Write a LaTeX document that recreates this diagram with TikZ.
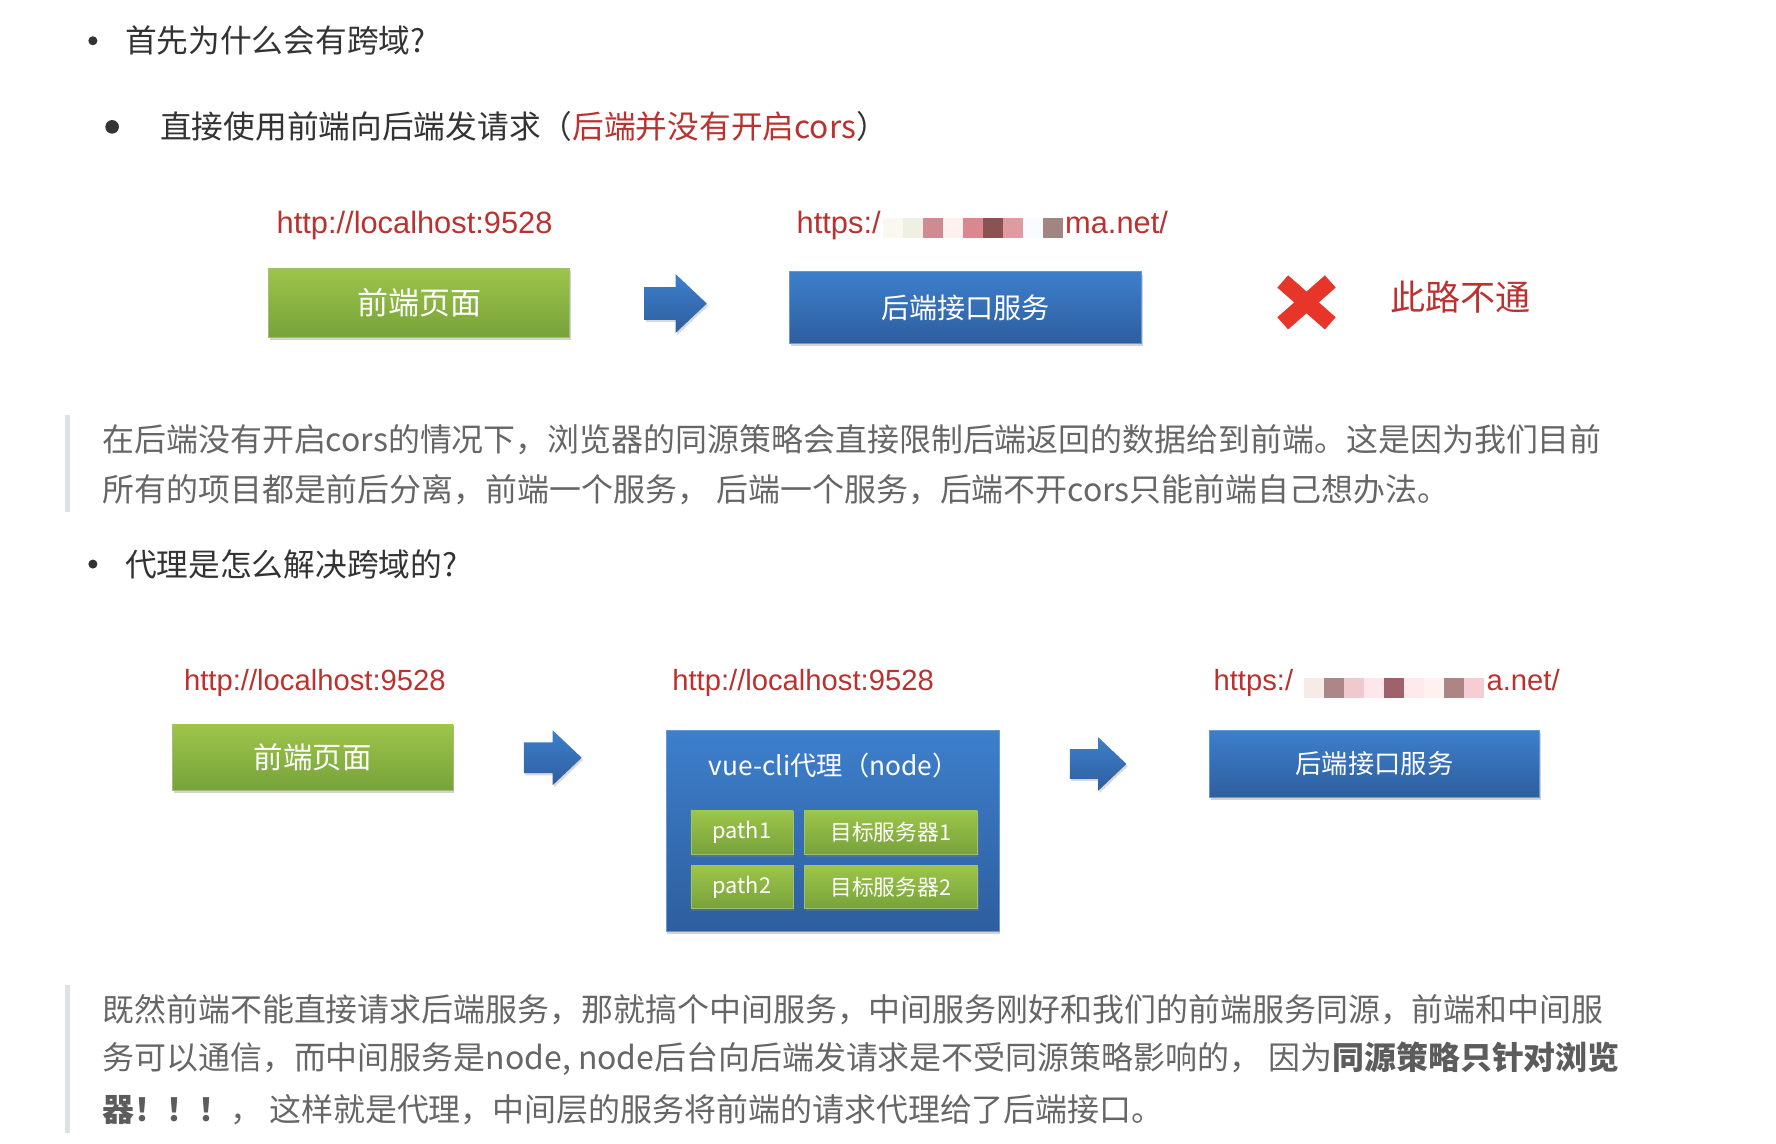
\documentclass[tikz,border=0pt]{standalone}
\usepackage{fontspec}
\setmainfont{Noto Sans CJK SC}
\newfontfamily\urlfont{Liberation Sans}
\usepackage{xcolor}
\usetikzlibrary{positioning,shadows}
\definecolor{inkdark}{HTML}{333333}
\definecolor{inkgray}{HTML}{666666}
\definecolor{urlred}{HTML}{BA3230}
\definecolor{xred}{HTML}{E8352A}
\definecolor{bartone}{HTML}{DFE2E5}
\definecolor{gtop}{HTML}{9DC54A}
\definecolor{gbot}{HTML}{77A23A}
\definecolor{btop}{HTML}{3D7FCC}
\definecolor{bbot}{HTML}{2E5E9E}
\newcommand{\fs}[1]{\fontsize{#1}{1.2\dimexpr#1pt\relax}\selectfont}

\begin{document}
\begin{tikzpicture}[x=0.5pt,y=-0.5pt,
 gbox/.style={rectangle,top color=gtop,bottom color=gbot,draw=gbot!70!white,line width=0.3pt,
   text=white,inner sep=0pt,drop shadow={opacity=0.35,shadow xshift=0.6pt,shadow yshift=-1.2pt}},
 bbox/.style={rectangle,top color=btop,bottom color=bbot,draw=btop!80!white,line width=0.3pt,
   text=white,inner sep=0pt,drop shadow={opacity=0.35,shadow xshift=0.6pt,shadow yshift=-1.2pt}},
 url/.style={text=urlred,inner sep=0pt,anchor=base,font=\urlfont\fs{13.6}},
 urlsm/.style={url,font=\urlfont\fs{12.9}},
 bullet/.style={text=inkdark,inner sep=0pt,anchor=west,font=\fs{14}},
 quote/.style={text=inkgray,inner sep=0pt,anchor=west,font=\fs{14.1}},
 blockarrow/.pic={
   \path[top color=btop,bottom color=bbot,drop shadow={opacity=0.3,shadow xshift=0.6pt,shadow yshift=-1pt}]
     (-27.5,-14.5) -- (0,-14.5) -- (0,-26) -- (27.5,0) -- (0,26) -- (0,14.5) -- (-27.5,14.5) -- cycle;}]
\useasboundingbox (0,0) rectangle (1568,1010);

% first part
\fill[inkdark] (82,36) circle (4);
\node[bullet] (q1) at (110,36) {首先为什么会有跨域?};
\fill[inkdark] (99,112) circle (6);
\node[bullet] (q1a) at (141,112) {直接使用前端向后端发请求（\textcolor{urlred}{后端并没有开启cors}）};

\node[url] (u1) at (366,206) {http://localhost:9528};
\node[url,anchor=base west] (u2) at (703,206) {https:/};
\node[url,anchor=base west] (u2b) at (940,206) {ma.net/};
\foreach \c [count=\i from 0] in {FBF8F2,EEF0E2,CF8A92,FFF1EF,DB8790,8B5252,DF9BA0,F8FCFF,A08580}{
  \definecolor{tile}{HTML}{\c}
  \fill[tile] (779.6+17.66*\i,192.5) rectangle ++(17.9,17.6);}
\fill[white,opacity=0.6] (779.6,175) rectangle (938.5,192.5);

\node[gbox,minimum width=133pt,minimum height=30.5pt,font=\fs{13.7}] (fe1) at (370,267.5) {前端页面};
\pic at (596.5,268) {blockarrow};
\node[bbox,minimum width=155.5pt,minimum height=31.5pt,font=\fs{12.4}] (be1) at (852.5,271.5) {后端接口服务};

\draw[xred,line width=7.2pt,line cap=butt] (1132.5,248.5) -- (1174.5,285.5);
\draw[xred,line width=7.2pt,line cap=butt] (1132.5,285.5) -- (1174.5,248.5);
\node[text=urlred,anchor=west,inner sep=0pt,font=\fs{15.5}] (nogo) at (1227,262) {此路不通};

\fill[bartone] (57,366) rectangle (62,452);
\node[quote] (t1) at (90,388) {在后端没有开启cors的情况下，浏览器的同源策略会直接限制后端返回的数据给到前端。这是因为我们目前};
\node[quote] (t2) at (90,432) {所有的项目都是前后分离，前端一个服务， 后端一个服务，后端不开cors只能前端自己想办法。};

% second part
\fill[inkdark] (82,498) circle (4);
\node[bullet] (q2) at (110,498) {代理是怎么解决跨域的?};

\node[urlsm] (u3) at (278,610) {http://localhost:9528};
\node[urlsm] (u4) at (709,610) {http://localhost:9528};
\node[urlsm,anchor=base west] (u5) at (1071,610) {https:/};
\node[urlsm,anchor=base west] (u5b) at (1312,610) {a.net/};
\foreach \c [count=\i from 0] in {F6EBE8,AD868A,EFC9CE,FFE6EA,A0626A,FFE9ED,FFF0F2,AE8585,F5CDD3}{
  \definecolor{tile}{HTML}{\c}
  \fill[tile] (1151.2+17.66*\i,598.6) rectangle ++(17.9,17.6);}
\fill[white,opacity=0.7] (1151.2,583) rectangle (1310,598.6);

\node[gbox,minimum width=124pt,minimum height=29pt,font=\fs{13}] (fe2) at (276,669) {前端页面};
\pic[scale=0.93] at (488,669) {blockarrow};
\node[bbox,minimum width=147pt,minimum height=88.5pt] (proxy) at (735,733.5) {};
\node[text=white,inner sep=0pt,font=\fs{11.6}] (ptitle) at (736,676) {vue-cli代理（node）};
\node[gbox,minimum width=45pt,minimum height=19pt,font=\fs{9.6}] (p1) at (655,735) {path1};
\node[gbox,minimum width=76.5pt,minimum height=19pt,font=\fs{9.6}] (s1) at (786.5,735) {目标服务器1};
\node[gbox,minimum width=45pt,minimum height=19pt,font=\fs{9.6}] (p2) at (655,783) {path2};
\node[gbox,minimum width=76.5pt,minimum height=19pt,font=\fs{9.6}] (s2) at (786.5,783) {目标服务器2};
\pic[scale=0.91] at (969.5,674.5) {blockarrow};
\node[bbox,minimum width=145.5pt,minimum height=29.5pt,font=\fs{11.6}] (be2) at (1213.5,674.5) {后端接口服务};

\fill[bartone] (57,870) rectangle (62,1000);
\node[quote] (t3) at (90,891) {既然前端不能直接请求后端服务，那就搞个中间服务，中间服务刚好和我们的前端服务同源，前端和中间服};
\node[quote] (t4) at (90,935) {务可以通信，而中间服务是node, node后台向后端发请求是不受同源策略影响的， 因为\textcolor{inkdark!80!white}{\bfseries 同源策略只针对浏览}};
\node[quote] (t5) at (90,980) {\textcolor{inkdark!80!white}{\bfseries 器！！！}， 这样就是代理，中间层的服务将前端的请求代理给了后端接口。};
\end{tikzpicture}
\end{document}
